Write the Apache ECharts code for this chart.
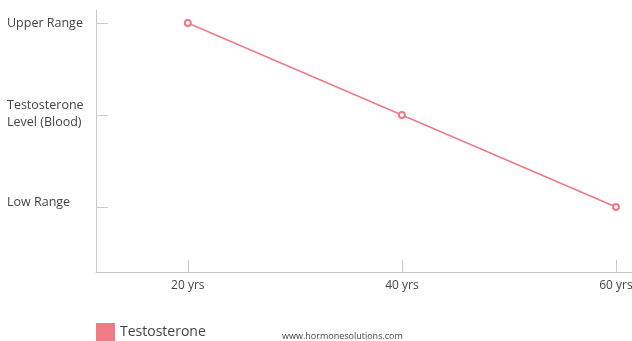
<!DOCTYPE html>
<html>
<head>
<meta charset="utf-8">
<script src="https://cdn.jsdelivr.net/npm/echarts@6/dist/echarts.min.js"></script>
<style>
  html, body { margin: 0; padding: 0; background: #fff; }
  #chart { width: 632px; height: 341px; }
</style>
</head>
<body>
<div id="chart"></div>
<script>
// Ages along the horizontal axis and testosterone level (1 = low, 3 = upper)
const ages = [20, 40, 60];
const levels = [3, 2, 1];
const levelLabels = { 1: 'Low Range', 2: 'Testosterone\nLevel (Blood)', 3: 'Upper Range' };
const seriesName = 'Testosterone';

const lineColor = '#f07a86';
const axisColor = '#c8c8c8';
const textColor = '#444';
const fontFamily = 'Open Sans, Lato, sans-serif';

const labelStyle = { color: textColor, fontSize: 12.5, fontFamily: fontFamily, lineHeight: 17 };

const chart = echarts.init(document.getElementById('chart'), null, { renderer: 'canvas' });
chart.setOption({
  animation: false,
  backgroundColor: '#fff',
  grid: { left: 96, right: 0, top: 10, bottom: 69, outerBoundsMode: 'none', containLabel: false },
  legend: {
    left: 96, top: 323, padding: 0,
    itemWidth: 17, itemHeight: 17, itemGap: 10,
    icon: 'rect',
    data: [{ name: seriesName, itemStyle: { color: lineColor } }],
    textStyle: { color: textColor, fontSize: 14, fontFamily: fontFamily, padding: [6, 0, 0, 1] }
  },
  graphic: [{
    type: 'text', left: 282, top: 332,
    style: { text: 'www.hormonesolutions.com', fill: textColor, fontSize: 9, fontFamily: fontFamily }
  }],
  xAxis: {
    type: 'value',
    min: 11.42, max: 61.5,
    splitLine: { show: false },
    axisLine: { lineStyle: { color: axisColor, width: 1 } },
    axisTick: { inside: true, length: 12, customValues: ages, lineStyle: { color: axisColor } },
    axisLabel: {
      customValues: ages, margin: 8,
      color: textColor, fontSize: 12, fontFamily: fontFamily,
      formatter: v => v + ' yrs'
    }
  },
  yAxis: {
    type: 'value',
    min: 0.293, max: 3.141,
    splitLine: { show: false },
    axisLine: { show: true, lineStyle: { color: axisColor, width: 1 } },
    axisTick: { show: true, inside: true, length: 12, customValues: [1, 2, 3], lineStyle: { color: axisColor } },
    axisLabel: {
      customValues: [1, 2, 3], align: 'left', margin: 89,
      color: textColor, fontSize: 12.5, fontFamily: fontFamily, lineHeight: 17,
      formatter: v => {
        const k = Math.round(v);
        const style = k === 1 ? 'low' : k === 2 ? 'mid' : 'up';
        return levelLabels[k].split('\n').map(s => '{' + style + '|' + s + '}').join('\n');
      },
      rich: {
        low: Object.assign({ padding: [0, 0, 10, 0] }, labelStyle),
        mid: Object.assign({ padding: [0, 0, 3, 0] }, labelStyle),
        up: Object.assign({}, labelStyle)
      }
    }
  },
  series: [{
    name: seriesName,
    type: 'line',
    data: ages.map((a, i) => [a, levels[i]]),
    symbol: 'emptyCircle',
    symbolSize: 6,
    lineStyle: { color: lineColor, width: 1.5 },
    itemStyle: { color: lineColor, borderColor: lineColor, borderWidth: 2 }
  }]
});
</script>
</body>
</html>
